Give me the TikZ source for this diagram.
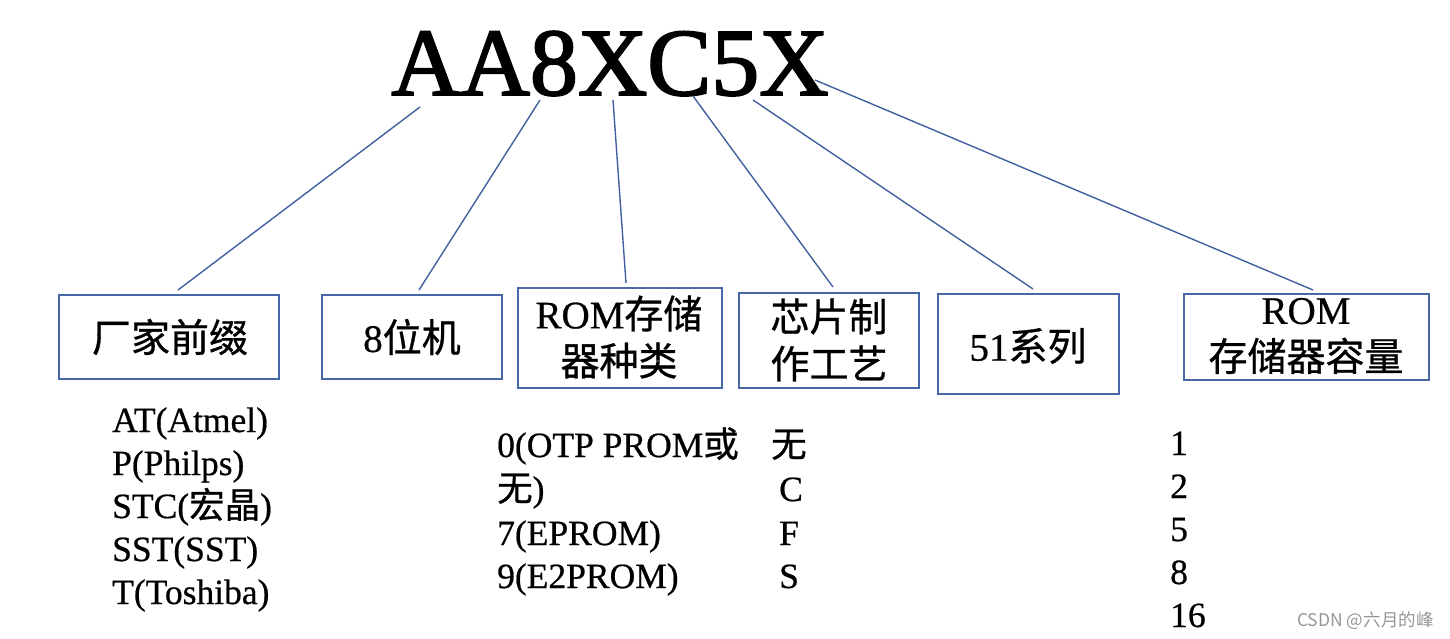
\documentclass[tikz,border=0pt]{standalone}
\usepackage{fontspec}
\setmainfont{Liberation Serif}[FakeBold=0.6]
\newfontfamily\titlefont{Liberation Serif}[FakeBold=2]
\newfontfamily\cjk{Noto Sans CJK SC}[FakeBold=0.8]
\newfontfamily\wmfont{Noto Sans CJK SC}
\definecolor{lineblue}{RGB}{66,96,160}
\definecolor{boxblue}{RGB}{72,104,168}
\definecolor{wmgray}{RGB}{150,150,150}
\begin{document}
\begin{tikzpicture}[x=1pt,y=-1pt,
  box/.style={draw=boxblue,line width=1.8pt,inner sep=0pt},
  conn/.style={draw=lineblue,line width=1.4pt},
  boxtxt/.style={font=\fontsize{39}{47}\selectfont,align=center,inner sep=0pt},
  lst/.style={font=\fontsize{35.5}{40}\selectfont,anchor=base west,inner sep=0pt}]
\useasboundingbox (0,0) rectangle (1450,638);
% title
\node[font=\titlefont\fontsize{96}{96}\selectfont,anchor=base,inner sep=0pt] (title) at (610,95) {AA8XC5X};
% boxes
\node[box,minimum width=220pt,minimum height=84pt] (b1) at (169,337) {};
\node[box,minimum width=180pt,minimum height=84pt] (b2) at (412,337) {};
\node[box,minimum width=204pt,minimum height=100pt] (b3) at (620,338) {};
\node[box,minimum width=180pt,minimum height=95pt] (b4) at (829,340.5) {};
\node[box,minimum width=181pt,minimum height=100pt] (b5) at (1028.5,344) {};
\node[box,minimum width=245pt,minimum height=86pt] (b6) at (1306.5,337) {};
% box texts
\node[boxtxt] (t1) at (170,337) {\cjk 厂家前缀};
\node[boxtxt] (t2) at (412,337) {8\cjk 位机};
\node[boxtxt] (t3) at (619,337) {ROM{\cjk 存储}\\{\cjk 器种类}};
\node[boxtxt] (t4) at (829,340) {\cjk 芯片制\\\cjk 作工艺};
\node[boxtxt] (t5) at (1028,346) {51\cjk 系列};
\node[boxtxt] (t6) at (1306,336) {ROM\\\cjk 存储器容量};
% connector ends
\coordinate (s1) at (420,107); \coordinate (e1) at (178,290);
\coordinate (s2) at (540,100); \coordinate (e2) at (419,290);
\coordinate (s3) at (613,100); \coordinate (e3) at (626,283);
\coordinate (s4) at (693,96);  \coordinate (e4) at (833,287);
\coordinate (s5) at (753,100); \coordinate (e5) at (1033,289);
\coordinate (s6) at (815,80);  \coordinate (e6) at (1313,290);
\draw[conn] (s1) -- (e1);
\draw[conn] (s2) -- (e2);
\draw[conn] (s3) -- (e3);
\draw[conn] (s4) -- (e4);
\draw[conn] (s5) -- (e5);
\draw[conn] (s6) -- (e6);
% list 1
\node[lst] (a1) at (112,432) {AT(Atmel)};
\node[lst] (a2) at (112,475) {P(Philps)};
\node[lst] (a3) at (112,518) {STC({\cjk 宏晶})};
\node[lst] (a4) at (112,561) {SST(SST)};
\node[lst] (a5) at (112,604) {T(Toshiba)};
% list 2
\node[lst] (c1) at (497,457) {0(OTP PROM{\cjk 或}};
\node[lst] (c2) at (497,501) {{\cjk 无})};
\node[lst] (c3) at (497,545) {7(EPROM)};
\node[lst] (c4) at (497,588) {9(E2PROM)};
% list 3
\node[lst] (d1) at (771,457) {\cjk 无};
\node[lst] (d2) at (779,501) {C};
\node[lst] (d3) at (779,545) {F};
\node[lst] (d4) at (779,588) {S};
% list 4
\node[lst] (n1) at (1170,455) {1};
\node[lst] (n2) at (1170,498) {2};
\node[lst] (n3) at (1170,541) {5};
\node[lst] (n4) at (1170,584) {8};
\node[lst] (n5) at (1170,627) {16};
% watermark
\node[anchor=base west,inner sep=0pt,text=wmgray,font=\wmfont\fontsize{17.5}{17.5}\selectfont] (wm) at (1297,626) {CSDN @六月的峰};
\end{tikzpicture}
\end{document}
